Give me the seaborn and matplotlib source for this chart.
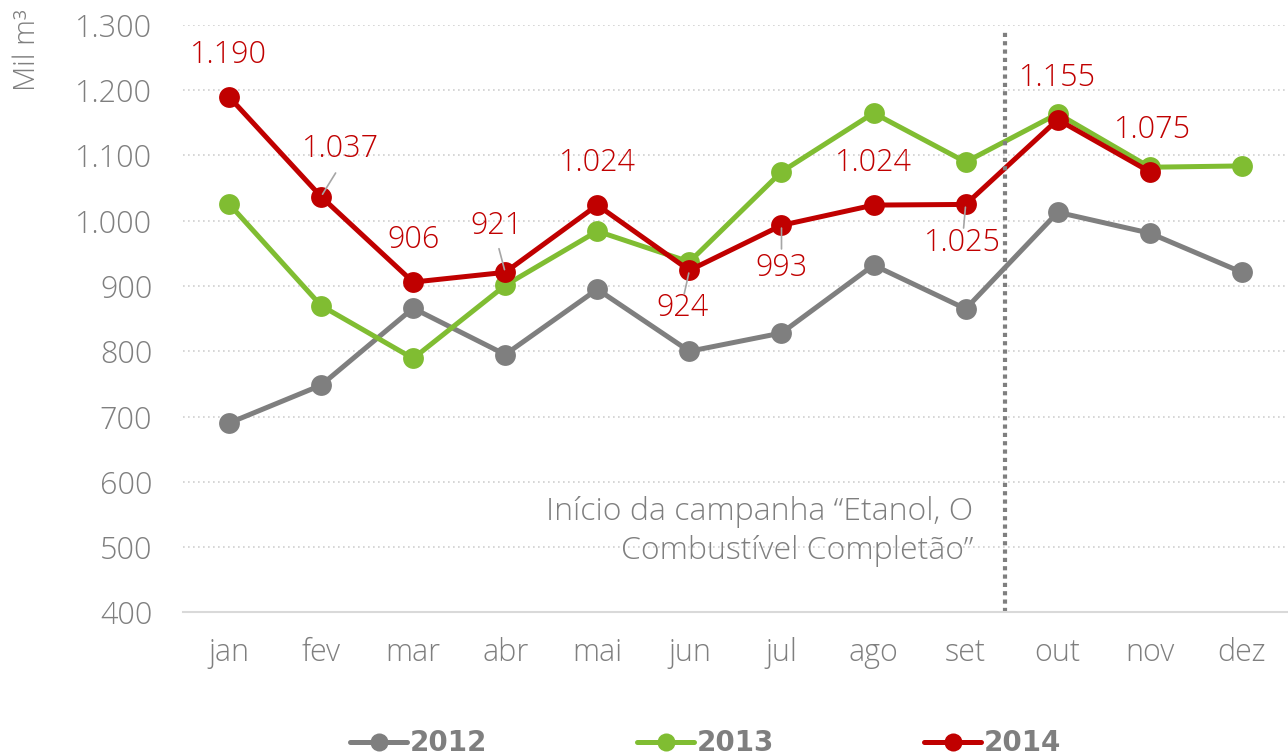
import matplotlib
matplotlib.use("Agg")
from matplotlib import pyplot as plt
from matplotlib.lines import Line2D
import numpy as np
import pandas as pd
import seaborn as sns

# data
months = ["jan", "fev", "mar", "abr", "mai", "jun", "jul", "ago", "set", "out", "nov", "dez"]
vals_2012 = [690, 748, 866, 795, 895, 800, 828, 932, 865, 1013, 981, 921]
vals_2013 = [1026, 870, 789, 901, 984, 937, 1075, 1165, 1090, 1164, 1082, 1084]
vals_2014 = [1190, 1037, 906, 921, 1024, 924, 993, 1024, 1025, 1155, 1075, np.nan]
years = ["2012", "2013", "2014"]
y_ticks = [400, 500, 600, 700, 800, 900, 1000, 1100, 1200, 1300]
note_text = "Início da campanha \u201cEtanol, O\nCombustível Completão\u201d"

GRAY = "#7f7f7f"
GREEN = "#80bd32"
RED = "#c00000"
palette = {"2012": GRAY, "2013": GREEN, "2014": RED}

df = pd.DataFrame({
    "mes": np.tile(np.arange(len(months)), 3),
    "valor": vals_2012 + vals_2013 + vals_2014,
    "ano": np.repeat(years, len(months)),
})

sns.set_theme(style="white")
plt.rcParams['font.family'] = ['Open Sans', 'DejaVu Sans']
plt.rcParams['font.weight'] = 'light'

fig = plt.figure(figsize=(12.88, 7.56), dpi=100)
ax = fig.add_axes([0.142, 0.19, 0.858, 0.777])

sns.lineplot(data=df, x="mes", y="valor", hue="ano", palette=palette,
             marker="o", markersize=15, markeredgewidth=0, linewidth=3.6,
             legend=False, ax=ax)

ax.set_xlim(-0.5, 11.5)
ax.set_ylim(400, 1300)
ax.set_yticks(y_ticks)
ax.set_yticklabels(["{:,}".format(v).replace(",", ".") for v in y_ticks])
ax.set_xticks(np.arange(len(months)))
ax.set_xticklabels(months)
ax.tick_params(axis="both", colors=GRAY, labelsize=22, length=0)
ax.tick_params(axis="x", pad=18)
ax.tick_params(axis="y", pad=22)
ax.set_xlabel("")
ax.set_ylabel("")

for s in ["top", "right", "left"]:
    ax.spines[s].set_visible(False)
ax.spines["bottom"].set_color("#d9d9d9")
ax.spines["bottom"].set_linewidth(1.5)
ax.grid(axis="y", color="#d0d0d0", linestyle=(0, (1, 2)), linewidth=1.2)
ax.set_axisbelow(True)

fig.text(0.021, 0.988, "Mil m³", rotation=90, color=GRAY, fontsize=21,
         ha="center", va="top")

# campaign marker
ax.axvline(8.43, ymin=0.0, ymax=0.99, color=GRAY, linestyle=(0, (1, 1)), linewidth=3)
ax.text(8.08, 524, note_text, ha="right", va="center", color=GRAY,
        fontsize=23, linespacing=1.3)

# data labels for 2014: (dx, dy) in points, leader line flag
offsets = [(0, 30, False), (14, 34, True), (0, 30, False), (-6, 33, True),
           (0, 30, False), (-5, -27, True), (0, -31, True), (0, 30, False),
           (-2, -28, True), (0, 30, False), (2, 30, False)]
for i, (dx, dy, lead) in enumerate(offsets):
    v = vals_2014[i]
    lbl = "{:,}".format(int(v)).replace(",", ".")
    ax.annotate(lbl, xy=(i, v), xytext=(dx, dy), textcoords="offset points",
                ha="center", va="center", color=RED, fontsize=22)
    if lead:
        sgn = 1 if dy > 0 else -1
        ax.annotate("", xy=(i, v), xytext=(dx * 0.75, sgn * 17), textcoords="offset points",
                    arrowprops=dict(arrowstyle="-", color="#a6a6a6", lw=1.2,
                                    shrinkA=0, shrinkB=2))

handles = [Line2D([0], [0], color=palette[y], marker="o", markersize=13,
                  markeredgewidth=0, linewidth=3.6) for y in years]
leg = fig.legend(handles, years, loc="lower center", bbox_to_anchor=(0.548, -0.035),
                 ncol=3, frameon=False, handlelength=2.05, handletextpad=0.1,
                 columnspacing=5.4,
                 prop={"family": "DejaVu Sans", "weight": "bold", "size": 20})
for t in leg.get_texts():
    t.set_color(GRAY)

fig.savefig("out.png", dpi=100)
